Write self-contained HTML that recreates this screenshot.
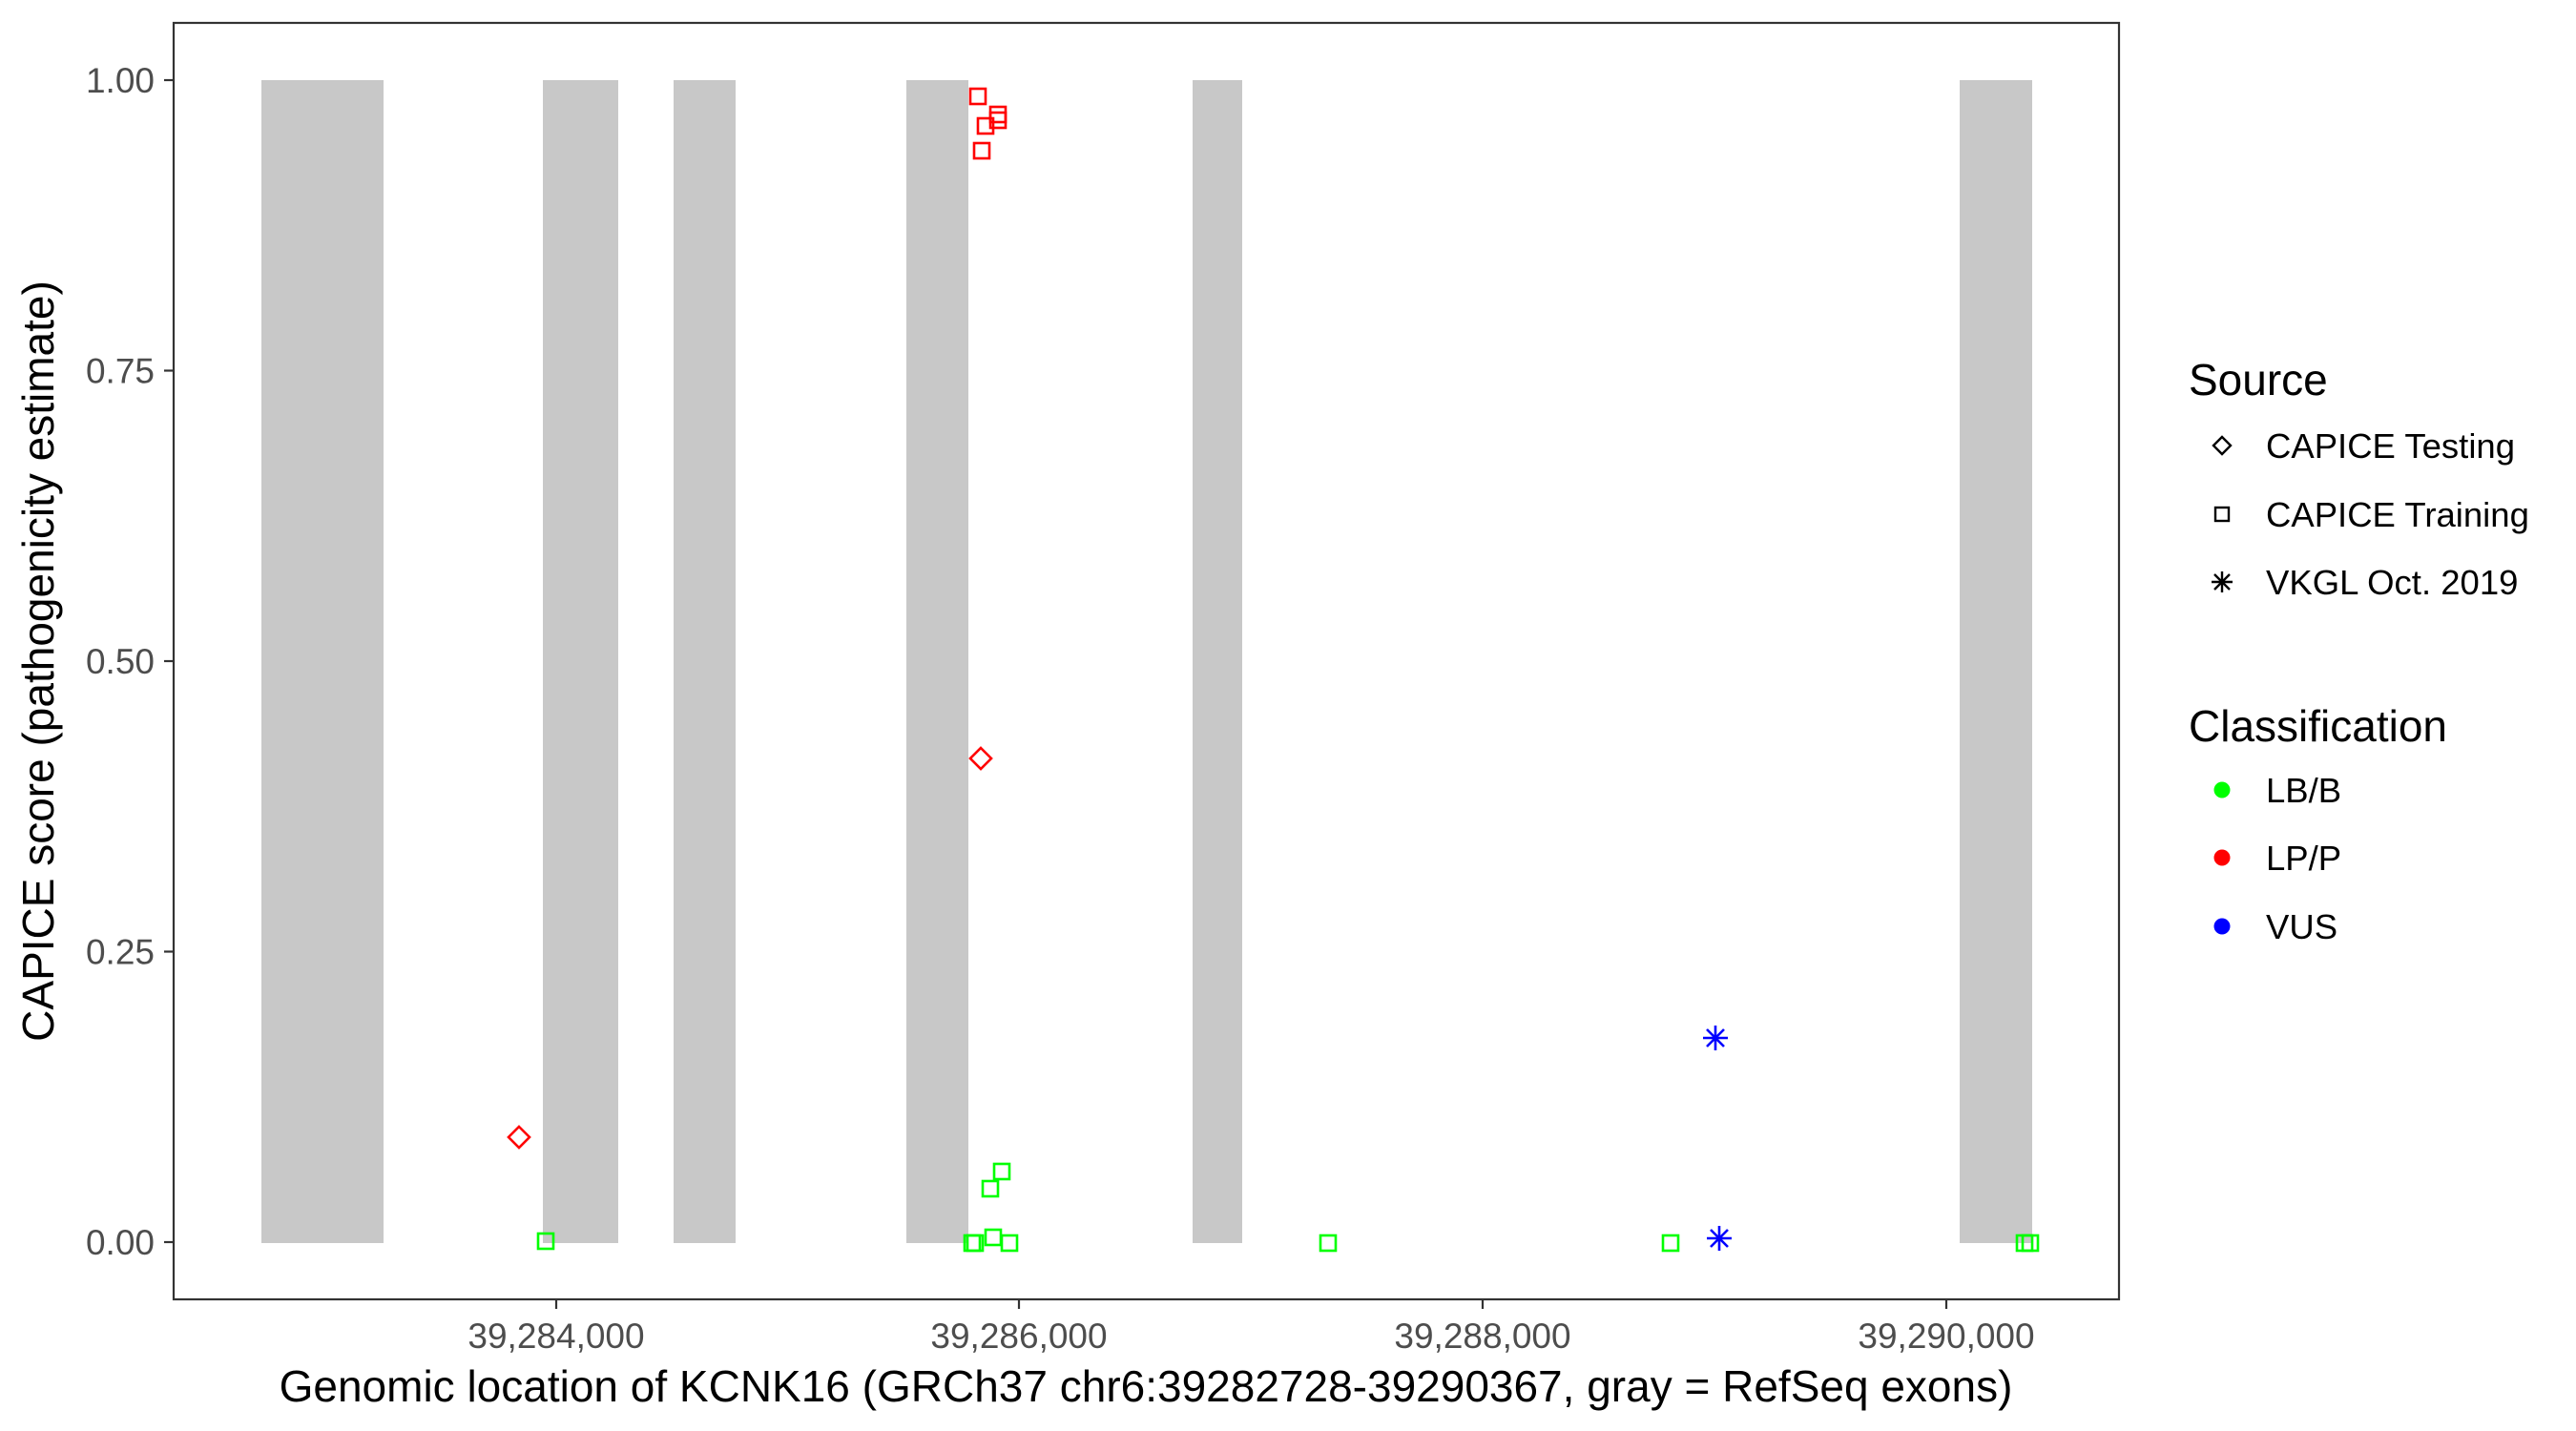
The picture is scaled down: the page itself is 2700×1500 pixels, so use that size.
<!DOCTYPE html>
<html><head><meta charset="utf-8"><style>
body{margin:0;background:#fff}
svg{display:block}
text{font-family:"Liberation Sans",Arial,sans-serif}
</style></head><body>
<svg width="2700" height="1500" viewBox="0 0 2700 1500" xmlns="http://www.w3.org/2000/svg">
<defs>
<symbol id="sq" overflow="visible"><rect x="-8" y="-8" width="16" height="16" fill="none" stroke-width="2.6"/></symbol>
</defs>
<rect x="0" y="0" width="2700" height="1500" fill="#fff"/>
<g fill="#c8c8c8">
<rect x="274" y="84" width="128" height="1219"/>
<rect x="569" y="84" width="79" height="1219"/>
<rect x="706" y="84" width="65" height="1219"/>
<rect x="950" y="84" width="65" height="1219"/>
<rect x="1250" y="84" width="52" height="1219"/>
<rect x="2054" y="84" width="76" height="1219"/>
</g>
<rect x="182" y="24" width="2039" height="1338" fill="none" stroke="#333" stroke-width="2.2"/>
<g stroke="#333" stroke-width="2.2">
<line x1="172" y1="84" x2="182" y2="84"/>
<line x1="172" y1="388.5" x2="182" y2="388.5"/>
<line x1="172" y1="693" x2="182" y2="693"/>
<line x1="172" y1="997.5" x2="182" y2="997.5"/>
<line x1="172" y1="1302" x2="182" y2="1302"/>
<line x1="583" y1="1362" x2="583" y2="1372"/>
<line x1="1068" y1="1362" x2="1068" y2="1372"/>
<line x1="1554" y1="1362" x2="1554" y2="1372"/>
<line x1="2040" y1="1362" x2="2040" y2="1372"/>
</g>
<g fill="#4d4d4d" font-size="37" text-anchor="end">
<text x="162" y="97">1.00</text>
<text x="162" y="401.5">0.75</text>
<text x="162" y="706">0.50</text>
<text x="162" y="1010.5">0.25</text>
<text x="162" y="1315">0.00</text>
</g>
<g fill="#4d4d4d" font-size="37" text-anchor="middle">
<text x="583" y="1413">39,284,000</text>
<text x="1068" y="1413">39,286,000</text>
<text x="1554" y="1413">39,288,000</text>
<text x="2040" y="1413">39,290,000</text>
</g>
<text x="1201" y="1469" font-size="46" text-anchor="middle" fill="#000">Genomic location of KCNK16 (GRCh37 chr6:39282728-39290367, gray = RefSeq exons)</text>
<text transform="translate(56,693) rotate(-90)" font-size="46" text-anchor="middle" fill="#000">CAPICE score (pathogenicity estimate)</text>
<g stroke="#ff0000">
<use href="#sq" x="1025" y="101"/>
<use href="#sq" x="1033" y="132"/>
<use href="#sq" x="1046" y="120"/>
<use href="#sq" x="1046" y="126"/>
<use href="#sq" x="1029" y="158"/>
</g>
<g fill="none" stroke="#ff0000" stroke-width="2.6">
<polygon points="1028,784 1039,795 1028,806 1017,795"/>
<polygon points="544,1181 555,1192 544,1203 533,1192"/>
</g>
<g stroke="#00ff00">
<use href="#sq" x="572" y="1301"/>
<use href="#sq" x="1019" y="1303"/>
<use href="#sq" x="1022" y="1303"/>
<use href="#sq" x="1038" y="1246"/>
<use href="#sq" x="1050" y="1228"/>
<use href="#sq" x="1041" y="1297"/>
<use href="#sq" x="1058" y="1303"/>
<use href="#sq" x="1392" y="1303"/>
<use href="#sq" x="1751" y="1303"/>
<use href="#sq" x="2122" y="1303"/>
<use href="#sq" x="2128" y="1303"/>
</g>
<g stroke="#0000ff" stroke-width="2.6">
<path d="M1798,1075 V1101 M1785,1088 H1811 M1789,1079 L1807,1097 M1789,1097 L1807,1079"/>
<path d="M1802,1285 V1311 M1789,1298 H1815 M1793,1289 L1811,1307 M1793,1307 L1811,1289"/>
</g>
<text x="2294" y="414" font-size="46" fill="#000">Source</text>
<g font-size="36.5" fill="#000">
<text x="2375" y="480">CAPICE Testing</text>
<text x="2375" y="552">CAPICE Training</text>
<text x="2375" y="623">VKGL Oct. 2019</text>
</g>
<polygon points="2329,458 2338,467 2329,476 2320,467" fill="none" stroke="#000" stroke-width="2.4"/>
<rect x="2322" y="532" width="14" height="14" fill="none" stroke="#000" stroke-width="2.4"/>
<path d="M2329,599 V621 M2318,610 H2340 M2321,602 L2337,618 M2321,618 L2337,602" stroke="#000" stroke-width="2.4"/>
<text x="2294" y="777" font-size="46" fill="#000">Classification</text>
<g font-size="36.5" fill="#000">
<text x="2375" y="841">LB/B</text>
<text x="2375" y="912">LP/P</text>
<text x="2375" y="984">VUS</text>
</g>
<circle cx="2329" cy="828" r="8.5" fill="#00ff00"/>
<circle cx="2329" cy="899" r="8.5" fill="#ff0000"/>
<circle cx="2329" cy="971" r="8.5" fill="#0000ff"/>
</svg>
</body></html>
